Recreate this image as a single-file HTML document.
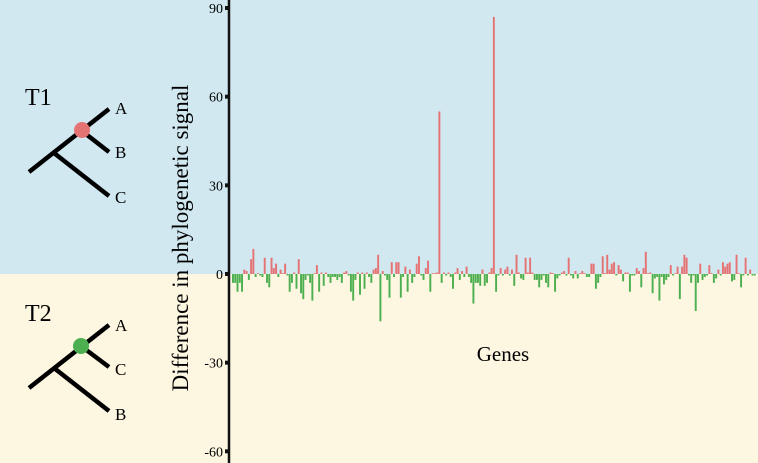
<!DOCTYPE html>
<html><head><meta charset="utf-8">
<style>
html,body{margin:0;padding:0;width:758px;height:463px;overflow:hidden;}
svg{display:block;}
svg text{font-family:"Liberation Serif",serif;}
</style></head>
<body>
<svg id="chart" width="758" height="463" viewBox="0 0 758 463" xmlns="http://www.w3.org/2000/svg">
<rect x="0" y="0" width="758" height="274" fill="#d1e8f1"/>
<rect x="0" y="274" width="758" height="189" fill="#fdf6e1"/>
<g stroke="#000" stroke-width="4.5" fill="none" stroke-linecap="butt">
<line x1="29" y1="172" x2="109" y2="109"/>
<line x1="54" y1="153" x2="109" y2="196"/>
<line x1="82" y1="131" x2="109" y2="152"/>
</g>
<circle cx="82" cy="130" r="8" fill="#e57373"/>
<text x="25" y="105" font-size="24">T1</text>
<text x="115" y="114" font-size="17">A</text>
<text x="115" y="158" font-size="17">B</text>
<text x="115" y="203" font-size="17">C</text>
<g stroke="#000" stroke-width="4.5" fill="none">
<line x1="29" y1="388" x2="109" y2="325"/>
<line x1="54" y1="368" x2="109" y2="411"/>
<line x1="81" y1="346" x2="109" y2="367"/>
</g>
<circle cx="81" cy="346" r="8" fill="#4caf50"/>
<text x="25" y="321" font-size="24">T2</text>
<text x="115" y="331" font-size="17">A</text>
<text x="115" y="375" font-size="17">C</text>
<text x="115" y="420" font-size="17">B</text>
<text transform="translate(188,238) rotate(-90)" text-anchor="middle" font-size="23">Difference in phylogenetic signal</text>
<text x="503" y="361" text-anchor="middle" font-size="21">Genes</text>
<g id="bars"></g>
<g id="axis"></g>
</svg>
<script>
const values = [
-3,-3,-6,-3,-6,1.5,1,-2,5,8.5,-1,0,-0.5,-1,5.5,-3,-4.5,5.5,2,3.5,-1,1.5,0,3.5,-0.5,-6,-3,0.5,-5,5,
-6.5,-8.5,-2,-0.5,-3,-9,0,3,-6,0.5,-4,0.5,-1,-3,-1,-1,-2,-1,-3,0.5,1,-0.5,-6,-9,-2,0.5,-7,0.5,-5,0.5,
-1,-3,1.5,2,6.5,-16,1,-0.5,-2,-8,4,-1,4,4,-8,-1,2.5,-6,1.5,-3,-1,3.5,6,-0.5,-2,2,4.5,-6,0,0,0.5,
55,-3,0.5,-0.5,0.5,-1,-5,0.5,2,-2,1,-1,2.5,-1,-3,-10,-3,-3,-4,1.5,-4,-3,0.5,2,
87,-6,-0.5,2,-0.5,1.5,2.5,-0.5,1.5,-4,6.5,0.5,-1.5,-2,5.5,0.5,5.5,0.5,-2,-2,
-4.5,-2,-0.5,-3,-4.5,0.5,0,-6,-1.5,-0.5,0.5,1,-0.5,5.5,-0.5,-1.5,1,-1.5,0,1,
0,-1,-1,3.5,3.5,-5,-3,-1,6,0,6.5,1.5,3.5,4,-0.5,3,1.5,-2.5,0.5,0.5,
-6,-0.5,-0.5,2,1,-4.5,2,7.5,0,0.5,-6.5,-1.5,-1,-9,-1,-3.5,-2,-1,3,-0.5,
0,2.5,-8.5,2.5,6.5,5.5,-0.5,-3,-0.5,-12.5,-3,3.5,-2,-1,-0.5,3,0,-3,-1.5,1.5,
-0.5,4,2.5,3.5,4,-2.5,-2,6.5,0,-4.5,-0.5,5.5,-0.5,1.5,-0.5,-0.5];
const yTicks = [90,60,30,0,-30,-60];
const yTickLabels = ["90","60","30","0","-30","-60"];
const NS='http://www.w3.org/2000/svg';
const yZero=274, yUnit=(274-8)/90;
function y(v){return yZero - v*yUnit;}
const x0=232, x1=756;
function x(i){return x0 + i*(x1-x0)/values.length;}
const bw=(x1-x0)/values.length*0.85;
const bars=document.getElementById('bars');
values.forEach((v,i)=>{
  const r=document.createElementNS(NS,'rect');
  
  
  const h=Math.max(Math.abs(y(v)-yZero),0.8);
  r.setAttribute('x',x(i)); r.setAttribute('y',v>=0?yZero-h:yZero);
  r.setAttribute('width',bw); r.setAttribute('height',h);
  r.setAttribute('fill',v>=0?'#e57373':'#4caf50');
  bars.appendChild(r);
});
const ax=document.getElementById('axis');
const line=document.createElementNS(NS,'line');


line.setAttribute('x1',229);line.setAttribute('x2',229);line.setAttribute('y1',0);line.setAttribute('y2',463);
line.setAttribute('stroke','#111');line.setAttribute('stroke-width','2.5');
ax.appendChild(line);
yTicks.forEach((t,i)=>{
  const tk=document.createElementNS(NS,'rect');
  
  
  tk.setAttribute('x',225);tk.setAttribute('y',y(t)-2);tk.setAttribute('width',4);tk.setAttribute('height',4);
  tk.setAttribute('fill','#111');
  ax.appendChild(tk);
  const tx=document.createElementNS(NS,'text');
  
  
  tx.setAttribute('x',223);tx.setAttribute('y',y(t)+5);
  tx.setAttribute('text-anchor','end');tx.setAttribute('font-size','14');
  tx.textContent=yTickLabels[i];
  ax.appendChild(tx);
});
</script>
</body></html>
